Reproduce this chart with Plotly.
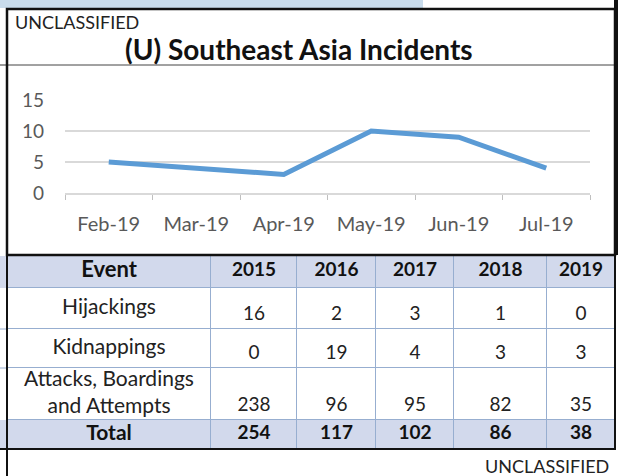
import plotly.graph_objects as go

# ---- data ----
months = ["Feb-19", "Mar-19", "Apr-19", "May-19", "Jun-19", "Jul-19"]
incidents = [5, 4, 3, 10, 9, 4]

header_labels = ["Event", "2015", "2016", "2017", "2018", "2019"]
row_labels = ["Hijackings", "Kidnappings", "Attacks, Boardings<br>and Attempts", "Total"]
hijackings = [16, 2, 3, 1, 0]
kidnappings = [0, 19, 4, 3, 3]
attacks = [238, 96, 95, 82, 35]
totals = [254, 117, 102, 86, 38]

# ---- layout constants (table geometry in pixels) ----
W, H = 625, 476
FONT = "Lato"
BLUE = "#5b9bd5"
HDR = "#d2d9ec"
GRID = "#d9d9d9"
CELL_LINE = "#97aed0"
col_widths = [204, 86, 79, 78, 93, 68]
row_heights = [33, 41, 39, 52, 29]
TABLE_TOP, TABLE_BOTTOM = 255, 449


def px(p):
    return p / W


def py(p):
    return 1 - p / H


x_edges = [0]
for w in col_widths:
    x_edges.append(x_edges[-1] + w)
y_edges = [0]
for h in row_heights:
    y_edges.append(y_edges[-1] + h)
x_mid = [(x_edges[i] + x_edges[i + 1]) / 2 for i in range(len(col_widths))]
y_mid = [(y_edges[i] + y_edges[i + 1]) / 2 for i in range(len(row_heights))]

fig = go.Figure()

# ---- line chart ----
fig.add_trace(go.Scatter(
    x=months, y=incidents, mode="lines",
    line=dict(color=BLUE, width=5),
    hoverinfo="skip", showlegend=False,
))

# ---- table: cell borders + fills via heatmaps ----
nrows, ncols = len(row_heights), len(col_widths)
fig.add_trace(go.Heatmap(
    x=x_edges, y=y_edges, z=[[1] * ncols for _ in range(nrows)],
    colorscale=[[0, CELL_LINE], [1, CELL_LINE]], showscale=False,
    hoverinfo="skip", xaxis="x2", yaxis="y2",
))
fill_z = [[1] * ncols] + [[0] * ncols for _ in range(nrows - 2)] + [[1] * ncols]
fig.add_trace(go.Heatmap(
    x=x_edges, y=y_edges, z=fill_z, zmin=0, zmax=1,
    colorscale=[[0, "white"], [1, HDR]], showscale=False,
    xgap=1, ygap=1, hoverinfo="skip", xaxis="x2", yaxis="y2",
))

# ---- table text ----
tx, ty, tt, ts, tc = [], [], [], [], []
# header
for j, lab in enumerate(header_labels):
    tx.append(x_mid[j]); ty.append(y_mid[0]); tt.append("<b>" + lab + "</b>")
    ts.append(22 if j == 0 else 19); tc.append("#111111")
# row labels
for i, lab in enumerate(row_labels):
    r = i + 1
    tx.append(x_mid[0]); ty.append(y_mid[r])
    tt.append("<b>" + lab + "</b>" if lab == "Total" else lab)
    ts.append(21); tc.append("#111111" if lab == "Total" else "#222222")
# values
body = [hijackings, kidnappings, attacks]
for i, series in enumerate(body):
    r = i + 1
    for j, v in enumerate(series):
        tx.append(x_mid[j + 1]); ty.append(y_edges[r + 1] - 14)
        tt.append(str(v)); ts.append(19); tc.append("#222222")
for j, v in enumerate(totals):
    tx.append(x_mid[j + 1]); ty.append(y_mid[-1])
    tt.append("<b>" + str(v) + "</b>"); ts.append(19); tc.append("#111111")

fig.add_trace(go.Scatter(
    x=tx, y=ty, text=tt, mode="text", textposition="middle center",
    textfont=dict(family=FONT, size=ts, color=tc),
    hoverinfo="skip", showlegend=False, xaxis="x2", yaxis="y2",
))

shapes = [
    dict(type="rect", xref="paper", yref="paper", x0=0, x1=px(423), y0=py(8), y1=1,
         fillcolor="#c9dcec", line=dict(width=0), layer="below"),
    dict(type="rect", xref="paper", yref="paper", x0=0, x1=px(6), y0=py(288), y1=py(256),
         fillcolor=HDR, line=dict(width=0)),
    dict(type="rect", xref="paper", yref="paper", x0=0, x1=px(6), y0=py(449), y1=py(420),
         fillcolor=HDR, line=dict(width=0)),
    dict(type="line", xref="paper", yref="paper", x0=0, x1=px(7), y0=py(65), y1=py(65),
         line=dict(color="#333333", width=1)),
    dict(type="line", xref="paper", yref="paper", x0=0, x1=px(7), y0=py(329), y1=py(329),
         line=dict(color=CELL_LINE, width=1)),
    dict(type="line", xref="paper", yref="paper", x0=0, x1=px(7), y0=py(368), y1=py(368),
         line=dict(color=CELL_LINE, width=1)),
    dict(type="line", xref="paper", yref="paper", x0=px(7), x1=px(615), y0=py(65), y1=py(65),
         line=dict(color="#444444", width=1)),
    dict(type="rect", xref="paper", yref="paper", x0=px(7), x1=px(615), y0=py(255), y1=py(9),
         line=dict(color="#111111", width=2.5)),
    dict(type="line", xref="paper", yref="paper", x0=px(616), x1=px(616), y0=py(255), y1=1,
         line=dict(color="#111111", width=4)),
    dict(type="rect", xref="paper", yref="paper", x0=px(7), x1=px(615),
         y0=py(TABLE_BOTTOM), y1=py(TABLE_TOP),
         line=dict(color="#111111", width=2)),
    dict(type="line", xref="paper", yref="paper", x0=0, x1=px(7), y0=py(449), y1=py(449),
         line=dict(color="#111111", width=2)),
    dict(type="line", xref="paper", yref="paper", x0=px(7), x1=px(7), y0=0, y1=py(449),
         line=dict(color="#111111", width=2)),
]

annotations = [
    dict(text="UNCLASSIFIED", xref="paper", yref="paper", x=px(13), y=py(22),
         xanchor="left", yanchor="middle", showarrow=False,
         font=dict(family=FONT, size=18, color="#222222")),
    dict(text="<b>(U) Southeast Asia Incidents</b>", xref="paper", yref="paper",
         x=px(299), y=py(49), xanchor="center", yanchor="middle", showarrow=False,
         font=dict(family=FONT, size=28, color="#111111")),
    dict(text="UNCLASSIFIED", xref="paper", yref="paper", x=px(611), y=py(466),
         xanchor="right", yanchor="middle", showarrow=False,
         font=dict(family=FONT, size=18, color="#222222")),
]

fig.update_layout(
    width=W, height=H, autosize=False, template="none",
    margin=dict(l=0, r=0, t=0, b=0, pad=0),
    paper_bgcolor="white", plot_bgcolor="white",
    shapes=shapes, annotations=annotations, showlegend=False,
    xaxis=dict(
        domain=[px(65), px(590)], type="category", range=[-0.5, len(months) - 0.5],
        automargin=False,
        showgrid=False, showline=True, linecolor=GRID, linewidth=1.5,
        ticks="outside", tickson="boundaries", ticklen=5, tickcolor="#bfbfbf",
        ticklabelstandoff=12,
        tickfont=dict(family=FONT, size=20, color="#595959"),
        fixedrange=True,
    ),
    yaxis=dict(
        domain=[py(193), py(100)], range=[0, 15], tickvals=[0, 5, 10, 15],
        automargin=False,
        showgrid=True, gridcolor=GRID, gridwidth=1.5, zeroline=False,
        showline=False, ticks="", ticklabelstandoff=20,
        tickfont=dict(family=FONT, size=19, color="#595959"),
        fixedrange=True,
    ),
    xaxis2=dict(
        domain=[px(7), px(615)], range=[0, x_edges[-1]], anchor="y2",
        showgrid=False, zeroline=False, showticklabels=False, ticks="",
        automargin=False, fixedrange=True,
    ),
    yaxis2=dict(
        domain=[py(TABLE_BOTTOM), py(TABLE_TOP)], range=[y_edges[-1], 0], anchor="x2",
        showgrid=False, zeroline=False, showticklabels=False, ticks="",
        automargin=False, fixedrange=True,
    ),
)

fig.write_html("out.html", config={"displayModeBar": False},
               post_script="document.body.style.margin='0';")
